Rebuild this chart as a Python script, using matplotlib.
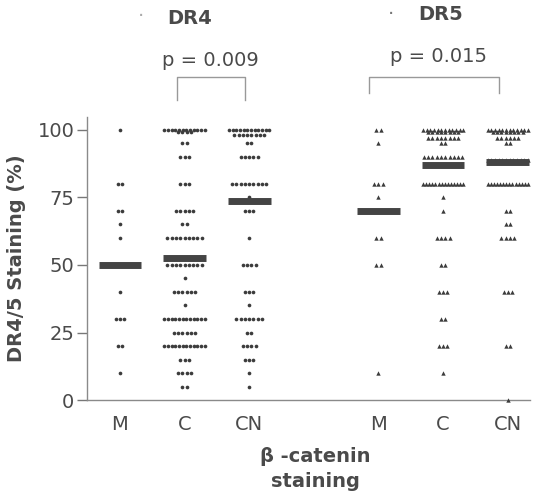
import matplotlib
matplotlib.use("Agg")
import matplotlib.pyplot as plt
import numpy as np

plt.rcParams['font.family'] = ['DejaVu Sans']

# category labels and positions on the x axis
cats = ['M', 'C', 'CN', 'M', 'C', 'CN']
xpos = [0, 1, 2, 4, 5, 6]

# values (% staining) and how many patients share each value
dr4_m_vals = [100, 80, 70, 65, 60, 50, 40, 30, 20, 10]
dr4_m_counts = [1, 2, 2, 1, 1, 3, 1, 3, 2, 1]
dr4_c_vals = [100, 99, 95, 90, 80, 70, 65, 60, 50, 45, 40, 35, 30, 25, 20, 15, 10, 5]
dr4_c_counts = [12, 4, 2, 3, 3, 5, 2, 9, 9, 1, 6, 1, 12, 6, 12, 3, 4, 2]
dr4_cn_vals = [100, 98, 95, 90, 80, 75, 70, 60, 50, 40, 35, 30, 25, 20, 15, 10, 5]
dr4_cn_counts = [12, 8, 2, 5, 9, 1, 3, 1, 4, 3, 1, 7, 2, 4, 3, 1, 1]

dr5_m_vals = [100, 95, 80, 75, 70, 60, 50, 10]
dr5_m_counts = [2, 1, 3, 1, 4, 2, 2, 1]
dr5_c_vals = [100, 99, 97, 95, 90, 87, 80, 75, 70, 60, 50, 40, 30, 20, 10]
dr5_c_counts = [12, 8, 8, 2, 10, 4, 14, 1, 1, 4, 2, 3, 2, 3, 1]
dr5_cn_vals = [100, 99, 97, 95, 89, 88, 80, 70, 65, 60, 40, 20, 0]
dr5_cn_counts = [12, 8, 6, 2, 12, 4, 14, 2, 2, 4, 3, 2, 1]

medians = [50, 52.5, 73.5, 70, 87, 88]
p_labels = ['p = 0.009', 'p = 0.015']

groups = [(dr4_m_vals, dr4_m_counts), (dr4_c_vals, dr4_c_counts), (dr4_cn_vals, dr4_cn_counts),
          (dr5_m_vals, dr5_m_counts), (dr5_c_vals, dr5_c_counts), (dr5_cn_vals, dr5_cn_counts)]
markers = ['o', 'o', 'o', '^', '^', '^']

txt = '#4a4a4a'
dot = '#3c3c3c'

fig = plt.figure(figsize=(5.33, 4.97), dpi=100)
ax = fig.add_axes([0.163, 0.195, 0.831, 0.57])


def swarm(x0, vals, counts):
    xs = []; ys = []
    for v, n in zip(vals, counts):
        w = 0.066
        if n > 1 and (n - 1) * w > 0.62:
            w = 0.62 / (n - 1)
        for i in range(n):
            xs.append(x0 + (i - (n - 1) / 2) * w)
            ys.append(v)
    return xs, ys


for x0, (vals, counts), mk in zip(xpos, groups, markers):
    xs, ys = swarm(x0, vals, counts)
    ms = 7 if mk == 'o' else 10
    ax.scatter(xs, ys, s=ms, marker=mk, color=dot, linewidths=0, clip_on=False, zorder=3)

for x0, m in zip(xpos, medians):
    ax.plot([x0 - 0.33, x0 + 0.33], [m, m], color='#444444', lw=5, solid_capstyle='butt', zorder=4)

ax.set_xlim(-0.51, 6.34)
ax.set_ylim(0, 104.8)
ax.set_yticks([0, 25, 50, 75, 100])
ax.set_xticks(xpos)
ax.set_xticklabels(cats)
ax.tick_params(axis='y', length=7, width=1, color='#777777', labelsize=14, labelcolor=txt, pad=2)
ax.tick_params(axis='x', length=0, labelsize=14, labelcolor=txt, pad=11)
for s in ['top', 'right']:
    ax.spines[s].set_visible(False)
for s in ['left', 'bottom']:
    ax.spines[s].set_color('#8a8a8a')
    ax.spines[s].set_linewidth(1)

ax.set_ylabel('DR4/5 Staining (%)', fontsize=14, fontweight='bold', color=txt, labelpad=8)
fig.text(315 / 533, 1 - 469 / 497, 'β -catenin\nstaining', ha='center', va='center',
         fontsize=14, fontweight='bold', color=txt, linespacing=1.4)

# brackets and p values
ax.plot([0.88, 0.88, 1.93, 1.93], [111, 119.6, 119.6, 111], color='#999999', lw=1, clip_on=False)
ax.plot([3.86, 3.86, 5.87, 5.87], [113.5, 119.6, 119.6, 113.5], color='#999999', lw=1, clip_on=False)
fig.text(210 / 533, 1 - 61 / 497, p_labels[0], ha='center', va='center', fontsize=14, color=txt)
fig.text(439 / 533, 1 - 56 / 497, p_labels[1], ha='center', va='center', fontsize=14, color=txt)

# legend-like labels on top
fig.text(141 / 533, 1 - 16 / 497, '·', ha='center', va='center', fontsize=14, color='#aaaaaa')
fig.text(167 / 533, 1 - 19 / 497, 'DR4', ha='left', va='center', fontsize=14, fontweight='bold', color=txt)
fig.text(391 / 533, 1 - 14 / 497, '·', ha='center', va='center', fontsize=14, color='#777777')
fig.text(418 / 533, 1 - 14 / 497, 'DR5', ha='left', va='center', fontsize=14, fontweight='bold', color=txt)

fig.savefig('out.png', dpi=100)
